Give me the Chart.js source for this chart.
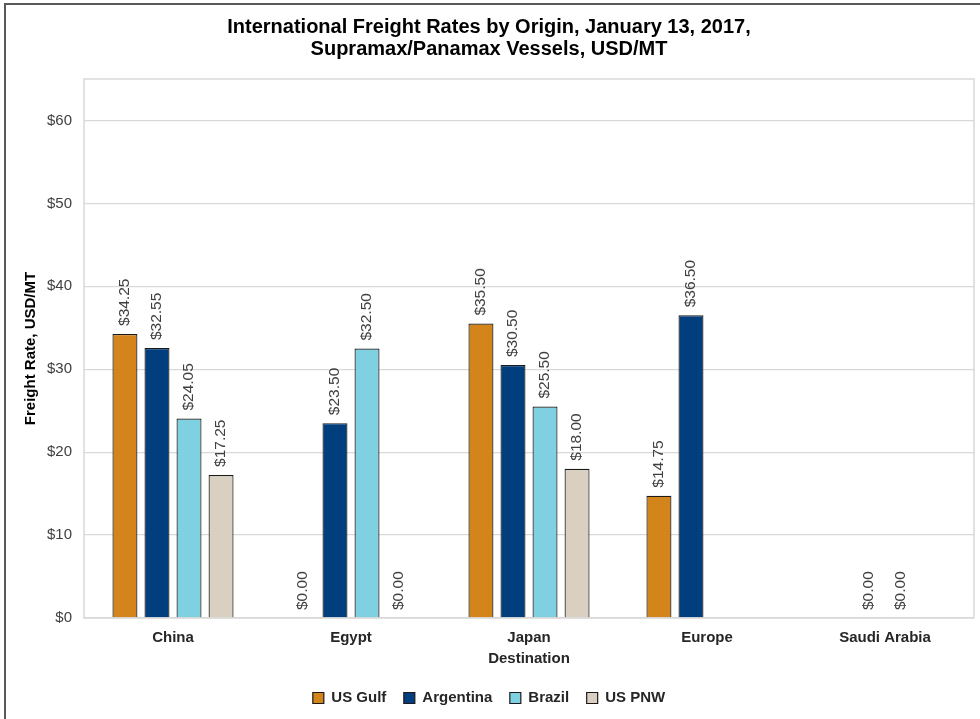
<!DOCTYPE html>
<html>
<head>
<meta charset="utf-8">
<script src="https://cdn.jsdelivr.net/npm/chart.js@4/dist/chart.umd.min.js"></script>
<style>
  html, body { margin: 0; padding: 0; background: #fff; }
  #wrap { width: 980px; height: 719px; }
</style>
</head>
<body>
<div id="wrap"><canvas id="freight" width="980" height="719"></canvas></div>
<script>
const destinations = ['China', 'Egypt', 'Japan', 'Europe', 'Saudi Arabia'];
const usGulf    = [34.25, 0,     35.50, 14.75, null];
const argentina = [32.55, 23.50, 30.50, 36.50, 0];
const brazil    = [24.05, 32.50, 25.50, null,  0];
const usPnw     = [17.25, 0,     18.00, null,  null];
const yTicks = [0, 10, 20, 30, 40, 50, 60];

const FONT = "'Liberation Sans', Arial, sans-serif";

// white background + outer frame (top and left edges only)
const frame = {
  id: 'frame',
  beforeDraw(chart) {
    const c = chart.ctx;
    c.save();
    c.fillStyle = '#fff';
    c.fillRect(0, 0, chart.width, chart.height);
    c.strokeStyle = '#595959';
    c.lineWidth = 2;
    c.beginPath();
    c.moveTo(5, chart.height);
    c.lineTo(5, 4);
    c.lineTo(chart.width, 4);
    c.stroke();
    c.restore();
  },
  afterDatasetsDraw(chart) {
    // plot area box
    const a = chart.chartArea;
    const c = chart.ctx;
    c.save();
    c.strokeStyle = '#d9d9d9';
    c.lineWidth = 1.5;
    c.strokeRect(a.left, a.top, a.right - a.left, a.bottom - a.top);
    c.restore();
  }
};

// rotated value labels above bars
const valueLabels = {
  id: 'valueLabels',
  afterDatasetsDraw(chart) {
    const c = chart.ctx;
    c.save();
    c.font = '15.5px ' + FONT;
    c.fillStyle = '#404040';
    c.textAlign = 'left';
    c.textBaseline = 'middle';
    chart.data.datasets.forEach((ds, i) => {
      chart.getDatasetMeta(i).data.forEach((bar, j) => {
        const v = ds.data[j];
        if (v === null || v === undefined) return;
        c.save();
        c.translate(bar.x, bar.y - 8);
        c.rotate(-Math.PI / 2);
        c.fillText('$' + v.toFixed(2), 0, 0);
        c.restore();
      });
    });
    c.restore();
  }
};

const ctx = document.getElementById('freight');
new Chart(ctx, {
  type: 'bar',
  data: {
    labels: destinations,
    datasets: [
      { label: 'US Gulf', data: usGulf, backgroundColor: '#d3841a' },
      { label: 'Argentina', data: argentina, backgroundColor: '#003e7e' },
      { label: 'Brazil', data: brazil, backgroundColor: '#7fd0e0' },
      { label: 'US PNW', data: usPnw, backgroundColor: '#d9d0c1' }
    ]
  },
  options: {
    responsive: false,
    animation: false,
    layout: { padding: { top: 0, right: 6, bottom: 3.5, left: 4 } },
    datasets: {
      bar: {
        categoryPercentage: 0.72,
        barPercentage: 0.78,
        borderColor: '#1a1a1a',
        borderWidth: 1.2
      }
    },
    plugins: {
      title: {
        display: true,
        text: ['International Freight Rates by Origin, January 13, 2017,', 'Supramax/Panamax Vessels, USD/MT'],
        color: '#000',
        font: { family: FONT, size: 20, weight: 'bold', lineHeight: 1.1 },
        padding: { top: 16, bottom: 19 }
      },
      legend: {
        position: 'bottom',
        labels: {
          color: '#262626',
          font: { family: FONT, size: 15, weight: 'bold' },
          boxWidth: 11,
          boxHeight: 11,
          padding: 17.5
        }
      },
      tooltip: { enabled: false }
    },
    scales: {
      x: {
        grid: { display: false, drawTicks: false },
        border: { display: false },
        ticks: { color: '#262626', font: { family: FONT, size: 15, weight: 'bold' }, padding: 11 },
        title: {
          display: true, text: 'Destination', color: '#262626',
          font: { family: FONT, size: 15, weight: 'bold' }, padding: { top: 5, bottom: 5 }
        },
        afterFit(scale) { scale.height = 55; }
      },
      y: {
        min: 0,
        max: 65,
        grid: { color: '#d9d9d9', lineWidth: 1.2, drawTicks: false },
        border: { display: false },
        ticks: {
          stepSize: 10,
          color: '#404040',
          font: { family: FONT, size: 15 },
          padding: 12,
          callback: v => '$' + v
        },
        afterBuildTicks(scale) {
          scale.ticks = yTicks.map(v => ({ value: v }));
        },
        title: {
          display: true, text: 'Freight Rate, USD/MT', color: '#000',
          font: { family: FONT, size: 15, weight: 'bold' }, padding: { top: 18, bottom: 0 }
        },
        afterFit(scale) { scale.width = 80; }
      }
    }
  },
  plugins: [frame, valueLabels]
});
</script>
</body>
</html>
